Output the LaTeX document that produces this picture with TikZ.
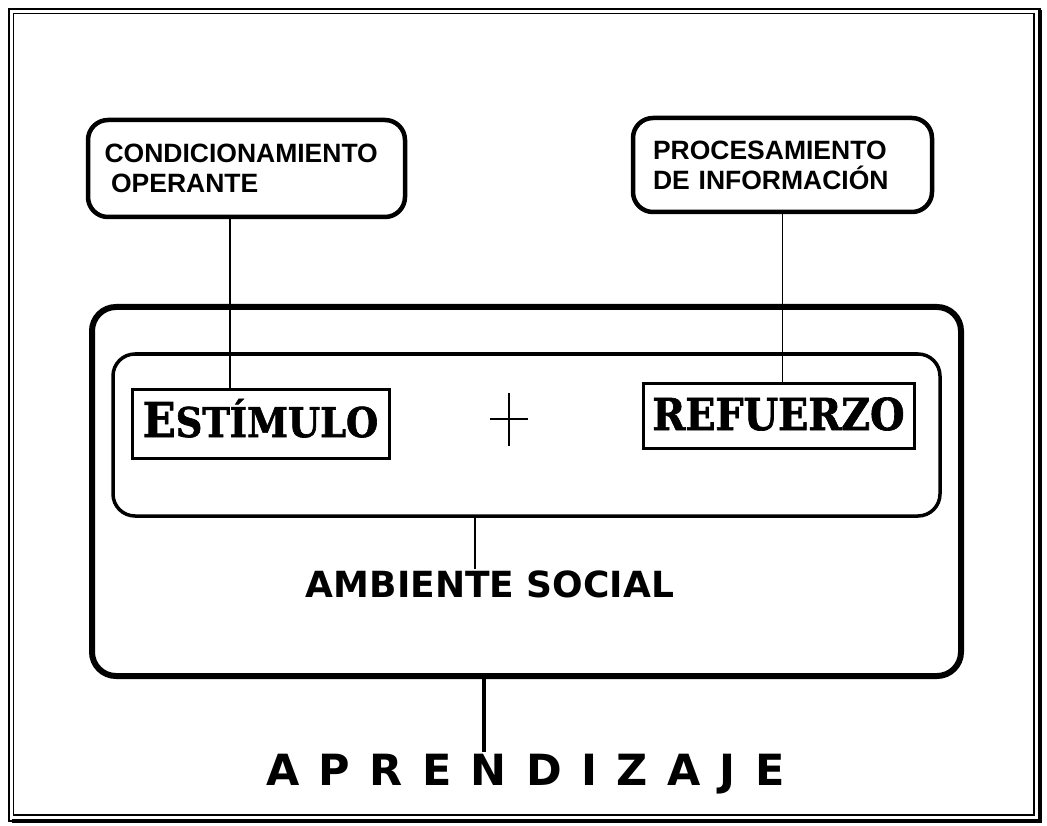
\documentclass[tikz,border=0pt]{standalone}
\usepackage{fontspec}
\setmainfont{Liberation Sans}
\newfontfamily\boxfont{Liberation Sans}
\newfontfamily\headfont{DejaVu Sans}
\newfontfamily\stencilfont[FakeStretch=0.9,FakeBold=1.5]{DejaVu Serif}
\newfontfamily\spacedfont[LetterSpace=45]{DejaVu Sans}

\begin{document}
\begin{tikzpicture}[x=1pt,y=-1pt,
    topbox/.style={draw,line width=4.5pt,rounded corners=20pt,align=left,
      font=\boxfont\bfseries\fontsize{26.5}{30}\selectfont},
    keybox/.style={draw,line width=3pt,inner sep=0pt,text depth=0pt,
      font=\stencilfont\bfseries},
    link/.style={line width=1.5pt}]
  % page and frame
  \fill[white] (0,0) rectangle (1047,826);
  \useasboundingbox (0,0) rectangle (1047,826);
  \draw[line width=1.5pt] (9,9) rectangle (1040,821);
  \draw[line width=1.5pt] (13.5,13.5) rectangle (1034,815);
  \draw[line width=4pt] (1040,10) -- (1040,821) -- (12,821);

  % the two theories
  \node[topbox,minimum width=317,minimum height=97,text width=284]
    (cond) at (246.5,168.5) {CONDICIONAMIENTO\\\hspace*{0.25em}OPERANTE};
  \node[topbox,minimum width=299,minimum height=94,text width=259]
    (proc) at (782.5,165) {PROCESAMIENTO\\DE INFORMACIÓN};

  % social setting
  \node[draw,line width=6pt,rounded corners=24pt,minimum width=869,
    minimum height=369] (outer) at (526.5,491.5) {};
  \node[draw,line width=3.5pt,rounded corners=22pt,minimum width=827,
    minimum height=162] (inner) at (526.5,435) {};

  \node[keybox,minimum width=257,minimum height=69,text height=27pt]
    (est) at (260.5,423.5)
    {{\fontsize{48}{48}\selectfont E}{\fontsize{41}{41}\selectfont STÍMULO}};
  \node[keybox,minimum width=271,minimum height=65,text height=29pt]
    (ref) at (778.5,415.5) {\fontsize{44}{44}\selectfont REFUERZO};

  \coordinate (plus) at (509,419);
  \draw[line width=1.5pt] ([xshift=-19pt]plus) -- ([xshift=19pt]plus);
  \draw[line width=1.5pt] ([yshift=26pt]plus) -- ([yshift=-27pt]plus);

  \node[anchor=base,inner sep=1pt,font=\headfont\bfseries\fontsize{36}{36}\selectfont]
    (amb) at (490,597) {AMBIENTE SOCIAL};
  \node[anchor=base west,inner sep=0pt,font=\spacedfont\bfseries\fontsize{43}{43}\selectfont]
    (apr) at (266,785) {APRENDIZAJE};

  % connectors
  \draw[link] ([xshift=-30.5pt]est.north) -- ([xshift=-30.5pt]est.north |- cond.south);
  \draw[link] (proc.south) -- (proc.south |- ref.north);
  \draw[line width=2.5pt] ([xshift=-15pt]amb.north) -- ([xshift=-15pt]amb.north |- inner.south);
  \coordinate (aprtick) at (484,752);
  \draw[line width=4pt] (aprtick |- outer.south) -- (aprtick);
\end{tikzpicture}
\end{document}
